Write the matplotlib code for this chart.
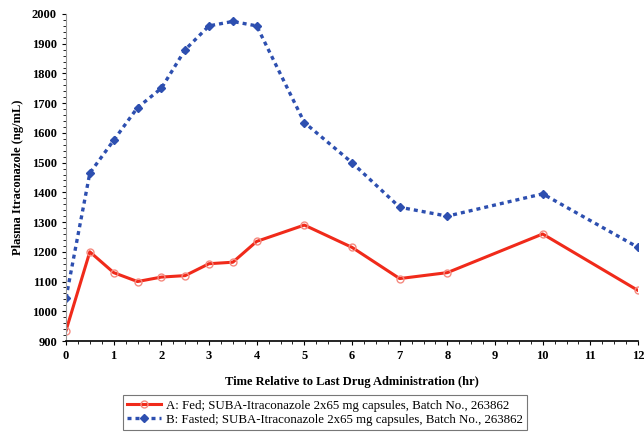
import matplotlib.pyplot as plt
from matplotlib.ticker import MultipleLocator

time_hr = [0, 0.5, 1, 1.5, 2, 2.5, 3, 3.5, 4, 5, 6, 7, 8, 10, 12]
fed = [935, 1200, 1130, 1100, 1115, 1120, 1160, 1165, 1235, 1290, 1215, 1110, 1130, 1260, 1070]
fasted = [1045, 1465, 1575, 1685, 1750, 1880, 1960, 1975, 1960, 1635, 1500, 1350, 1320, 1395, 1215]

label_fed = "A: Fed; SUBA-Itraconazole 2x65 mg capsules, Batch No., 263862"
label_fasted = "B: Fasted; SUBA-Itraconazole 2x65 mg capsules, Batch No., 263862"

plt.rcParams["font.family"] = ["Liberation Serif", "DejaVu Serif"]

fig = plt.figure(figsize=(6.44, 4.33), dpi=100)
ax = fig.add_axes([66 / 644, 1 - 341 / 433, (638 - 66) / 644, (341 - 14) / 433])

ax.plot(time_hr, fed, color="#f02a1a", lw=2.2, marker="o", ms=5,
        mfc="none", mec="#f58a80", mew=1.0, label=label_fed)
ax.plot(time_hr, fasted, color="#2d4fb0", lw=2.4, ls=(0, (1.2, 1.2)), marker="D", ms=4.2,
        mfc="#2d4fb0", mec="#2d4fb0", label=label_fasted)

ax.set_xlim(0, 12)
ax.set_ylim(900, 2000)
ax.xaxis.set_major_locator(MultipleLocator(1))
ax.xaxis.set_minor_locator(MultipleLocator(0.25))
ax.yaxis.set_major_locator(MultipleLocator(100))
ax.yaxis.set_minor_locator(MultipleLocator(20))
ax.tick_params(axis="both", which="major", labelsize=9, length=3, direction="out")
ax.tick_params(axis="both", which="minor", length=2, direction="out")
for lbl in ax.get_xticklabels() + ax.get_yticklabels():
    lbl.set_fontweight("bold")

ax.spines[["top", "right"]].set_visible(False)
ax.spines["left"].set_color("#999999")
ax.spines["bottom"].set_linewidth(1.2)

ax.set_xlabel("Time Relative to Last Drug Administration (hr)", fontsize=9,
              fontweight="bold", labelpad=10)
ax.set_ylabel("Plasma Itraconazole (ng/mL)", fontsize=9, fontweight="bold", labelpad=6)

leg = fig.legend(loc="lower left", bbox_to_anchor=(120 / 644, 0 / 433), fontsize=9.3,
                 frameon=True, fancybox=False, edgecolor="#555555", handlelength=2.6,
                 handletextpad=0.4, borderpad=0.35, labelspacing=0.15, borderaxespad=0.2)
leg.get_frame().set_linewidth(0.8)

fig.savefig("out.png", dpi=100)
